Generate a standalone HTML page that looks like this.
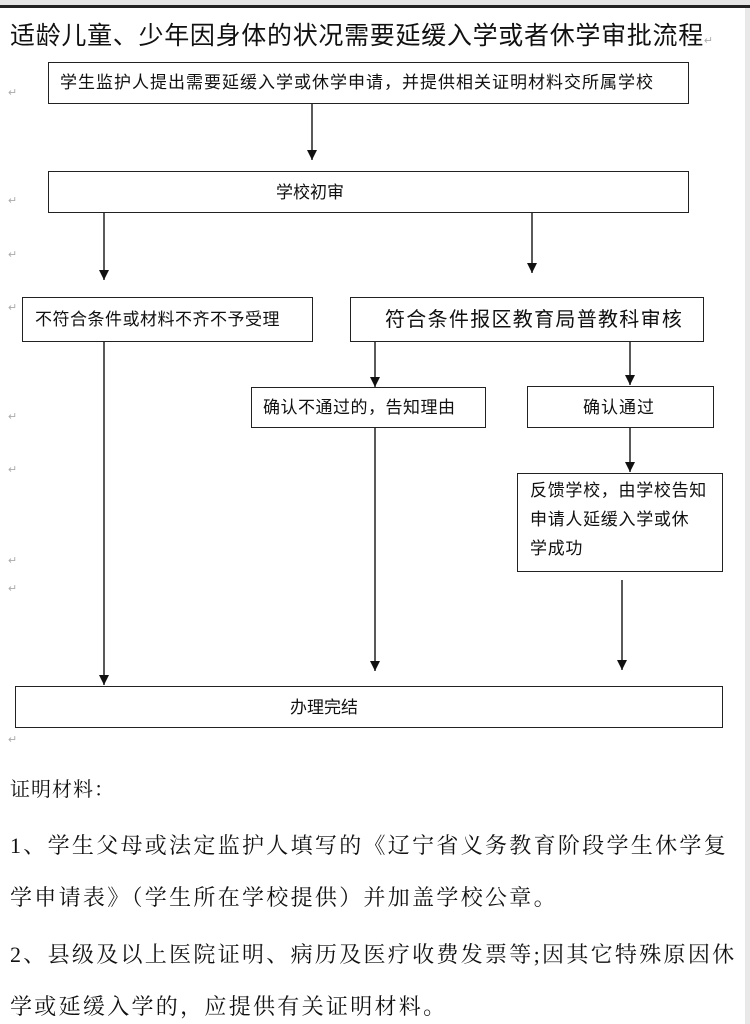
<!DOCTYPE html>
<html><head><meta charset="utf-8"><style>
body{margin:0;width:750px;height:1024px;background:#fff;position:relative;overflow:hidden;font-family:"Liberation Sans","Noto Sans CJK SC",sans-serif;color:#111}
.a{position:absolute;white-space:nowrap;line-height:1}
.b{position:absolute;border:1.5px solid #222;box-sizing:border-box;background:#fff}
.s{font-family:"Liberation Serif","Noto Serif CJK SC",serif;font-size:22px;letter-spacing:2.3px;left:10px}
.m{color:#aaa;font-size:11px}
</style></head><body>
<div style="position:absolute;left:0;top:0;width:750px;height:5px;background:#e4e4e4"></div>
<div style="position:absolute;left:0;top:5px;width:750px;height:3px;background:#222"></div>
<div style="position:absolute;left:745px;top:8px;width:5px;height:1016px;background:#e8e8e8"></div>
<div class="a" style="left:10px;top:24px;font-size:25px;letter-spacing:0.7px">适龄儿童、少年因身体的状况需要延缓入学或者休学审批流程<span class="m">↵</span></div>

<div class="b" style="left:48px;top:62px;width:641px;height:42px"></div>
<div class="a" style="left:60px;top:74px;font-size:17px;letter-spacing:1px">学生监护人提出需要延缓入学或休学申请，并提供相关证明材料交所属学校</div>
<div class="b" style="left:48px;top:171px;width:641px;height:42px"></div>
<div class="a" style="left:276px;top:184px;font-size:17px">学校初审</div>
<div class="b" style="left:22px;top:297px;width:291px;height:45px"></div>
<div class="a" style="left:35px;top:311px;font-size:17px;letter-spacing:.5px">不符合条件或材料不齐不予受理</div>
<div class="b" style="left:350px;top:297px;width:354px;height:45px"></div>
<div class="a" style="left:385px;top:310px;font-size:20px;letter-spacing:1.3px">符合条件报区教育局普教科审核</div>
<div class="b" style="left:251px;top:387px;width:235px;height:41px"></div>
<div class="a" style="left:263px;top:399px;font-size:17px;letter-spacing:.5px">确认不通过的，告知理由</div>
<div class="b" style="left:527px;top:386px;width:187px;height:42px"></div>
<div class="a" style="left:583px;top:399px;font-size:17px;letter-spacing:1px">确认通过</div>
<div class="b" style="left:517px;top:473px;width:206px;height:99px"></div>
<div class="a" style="left:530px;top:476px;font-size:17px;letter-spacing:.7px;line-height:29px">反馈学校，由学校告知<br>申请人延缓入学或休<br>学成功</div>
<div class="b" style="left:15px;top:686px;width:708px;height:42px"></div>
<div class="a" style="left:290px;top:699px;font-size:17px">办理完结</div>

<svg style="position:absolute;left:0;top:0" width="750" height="1024">
<defs><marker id="ar" markerWidth="10" markerHeight="10" refX="10" refY="5" orient="auto" markerUnits="userSpaceOnUse"><path d="M0,0 L10,5 L0,10 z" fill="#111"/></marker></defs>
<g stroke="#222" stroke-width="1.5" marker-end="url(#ar)">
<line x1="312" y1="104" x2="312" y2="160"/>
<line x1="104" y1="213" x2="104" y2="280"/>
<line x1="532" y1="213" x2="532" y2="273"/>
<line x1="104" y1="342" x2="104" y2="685"/>
<line x1="375" y1="342" x2="375" y2="387"/>
<line x1="375" y1="428" x2="375" y2="671"/>
<line x1="630" y1="342" x2="630" y2="385"/>
<line x1="630" y1="428" x2="630" y2="472"/>
<line x1="622" y1="580" x2="622" y2="670"/>
</g></svg>

<div class="a m" style="left:8px;top:88px">↵</div>
<div class="a m" style="left:8px;top:196px">↵</div>
<div class="a m" style="left:8px;top:250px">↵</div>
<div class="a m" style="left:8px;top:303px">↵</div>
<div class="a m" style="left:8px;top:412px">↵</div>
<div class="a m" style="left:8px;top:465px">↵</div>
<div class="a m" style="left:8px;top:556px">↵</div>
<div class="a m" style="left:8px;top:584px">↵</div>
<div class="a m" style="left:8px;top:735px">↵</div>

<div class="a s" style="top:780px;font-size:20px;letter-spacing:1px">证明材料：</div>
<div class="a s" style="top:835px">1、学生父母或法定监护人填写的《辽宁省义务教育阶段学生休学复</div>
<div class="a s" style="top:887px">学申请表》（学生所在学校提供）并加盖学校公章。</div>
<div class="a s" style="top:944px">2、县级及以上医院证明、病历及医疗收费发票等;因其它特殊原因休</div>
<div class="a s" style="top:996px">学或延缓入学的，应提供有关证明材料。</div>
</body></html>
